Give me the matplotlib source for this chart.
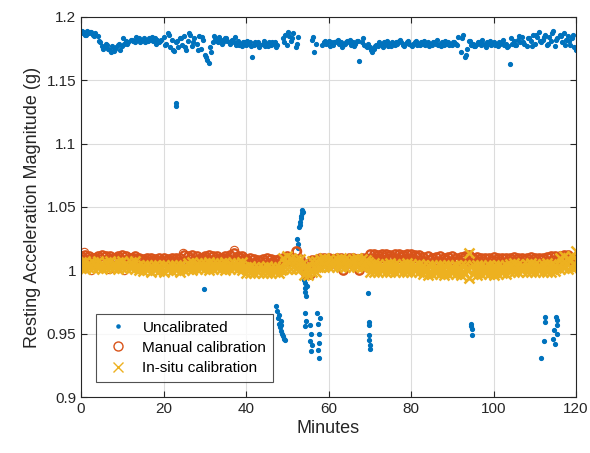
import matplotlib
matplotlib.use("Agg")
import matplotlib.pyplot as plt
import numpy as np

plt.rcParams['font.family'] = ['Liberation Sans', 'DejaVu Sans']

# time grids (minutes)
t_half = np.arange(0, 120.5, 0.5)
t_min = np.arange(0, 121, 1.0)

# uncalibrated, main band near 1.18 g (one value per half minute, nan = no sample in band)
uncal_band = [
    1.187, 1.188, 1.186, 1.189, 1.187, 1.188, 1.186, 1.187, 1.185,
    1.180, 1.177, 1.176, 1.179, 1.175, 1.174, 1.177, 1.173, 1.176, 1.178, 1.174, 1.177,
    1.179, 1.181, 1.180, 1.182, 1.181, 1.180, 1.182, 1.183, 1.181, 1.182, 1.180, 1.181,
    1.183, 1.182, 1.181, 1.183, 1.182, 1.180, 1.182,
    1.184, 1.179, 1.187, 1.176, 1.182, 1.173, 1.180, 1.176, 1.183,
    1.178, 1.185, 1.174, 1.181, 1.186, 1.177, 1.183, 1.179, 1.185, 1.175, 1.182, 1.170,
    1.166, 1.164, 1.172, 1.180,
    1.183, 1.181, 1.184, 1.182, 1.180, 1.183, 1.181, 1.179, 1.182, 1.180, 1.178, 1.181,
    1.179, 1.177, 1.180, 1.178,
    1.179, 1.180, 1.168, 1.178, 1.179, 1.180, 1.178, 1.179, 1.177, 1.179, 1.180, 1.178,
    1.179, 1.180, 1.178,
    np.nan, np.nan,
    1.183, 1.186, 1.178, 1.185, 1.181, 1.187, 1.176, 1.184,
    np.nan, np.nan, np.nan, np.nan, np.nan, np.nan,
    1.182, 1.172, 1.179,
    np.nan, np.nan,
    1.178, 1.180, 1.179, 1.181, 1.180, 1.178, 1.180, 1.181, 1.179, 1.180, 1.178, 1.179,
    1.181, 1.180, 1.178, 1.180, 1.179, 1.181, 1.165, 1.180, 1.178, 1.177, 1.179,
    1.176, 1.172, 1.175, 1.178, 1.177, 1.179, 1.178, 1.180, 1.179, 1.177, 1.179, 1.180,
    1.178, 1.179, 1.181, 1.180, 1.178, 1.179, 1.180, 1.179, 1.178,
    1.179, 1.180, 1.178, 1.179, 1.180, 1.179, 1.178, 1.180, 1.179, 1.178, 1.180, 1.179,
    1.178, 1.179, 1.180, 1.178, 1.179, 1.180, 1.179, 1.178, 1.180, 1.179,
    1.184, 1.172, 1.186, 1.168, 1.175, 1.181,
    1.178, 1.179, 1.177, 1.179, 1.180, 1.178, 1.179, 1.178, 1.180, 1.179, 1.178, 1.180,
    1.179, 1.177, 1.179, 1.180, 1.178, 1.179, 1.177, 1.163,
    1.179, 1.181, 1.178, 1.182, 1.180, 1.184, 1.179, 1.177, 1.183, 1.181, 1.186, 1.179,
    1.184, 1.188, 1.180, 1.182, 1.186, 1.178, 1.184, 1.181, 1.189, 1.177, 1.183, 1.186,
    1.180, 1.187, 1.182,
    1.185, 1.178, 1.183, 1.176, 1.174,
]
# second set of band samples, a quarter minute after each whole minute
uncal_band2 = [
    1.189, 1.186, 1.188, 1.185,
    1.181, 1.175, 1.178, 1.172, 1.175, 1.179,
    1.183, 1.179, 1.182, 1.184, 1.180, 1.183, 1.181, 1.184, 1.179, 1.181,
    1.178, 1.186, 1.174, 1.181,
    1.183, 1.176, 1.187, 1.180, 1.174, 1.184, 1.168, 1.176,
    1.185, 1.180, 1.179, 1.183, 1.181, 1.184, 1.178, 1.180,
    1.181, 1.177, 1.180, 1.176, 1.181, 1.177, 1.180, 1.176,
    np.nan,
    1.180, 1.188, 1.183, 1.179,
    np.nan, np.nan, np.nan,
    1.184,
    np.nan, np.nan,
    1.181, 1.177, 1.180, 1.182, 1.176, 1.180, 1.182, 1.177, 1.181, 1.183, 1.176,
    1.174, 1.177, 1.180, 1.176, 1.181, 1.177, 1.180, 1.182, 1.177, 1.181,
    1.177, 1.181, 1.178, 1.181, 1.177, 1.180, 1.182, 1.177, 1.181, 1.178, 1.180,
    1.178, 1.183, 1.170,
    1.181, 1.177, 1.180, 1.182, 1.176, 1.181, 1.178, 1.180, 1.182, 1.176,
    1.183, 1.178, 1.185, 1.180, 1.183, 1.177, 1.186, 1.181, 1.184, 1.179, 1.187, 1.182, 1.185, 1.178,
    1.181, 1.186, 1.176,
]

# uncalibrated samples away from the band
uncal_out_t = [23.0, 23.1, 29.7,
               47.3, 47.5, 47.8, 48.0, 48.1, 48.2, 48.4, 48.5, 48.6, 48.8, 49.0, 49.2, 49.4,
               52.4, 52.5, 52.6, 52.8, 53.0, 53.2, 53.3, 53.4, 53.5, 53.6, 53.7,
               54.0, 54.2, 54.3, 54.4, 54.6, 54.8, 54.4, 54.5, 54.3,
               55.6, 55.8, 55.5, 55.7, 55.9,
               57.3, 57.5, 57.6, 57.8, 57.5, 57.7, 58.0,
               69.6, 69.8, 69.9, 69.8, 69.9, 70.0, 70.1,
               94.5, 94.6, 94.7, 94.8,
               112.4, 112.5, 112.2, 111.6, 115.2, 115.3, 115.3, 114.6, 115.4, 114.4, 115.0]
uncal_out_v = [1.132, 1.130, 0.985,
               0.972, 0.968, 0.962, 0.958, 0.965, 0.955, 0.960, 0.957, 0.952, 0.950, 0.948, 0.946, 0.945,
               1.025, 1.021, 1.018, 1.034, 1.036, 1.038, 1.041, 1.043, 1.045, 1.048, 1.046,
               0.992, 0.990, 0.986, 0.983, 0.980, 0.988, 0.966, 0.960, 0.956,
               0.957, 0.950, 0.944, 0.936, 0.941,
               0.966, 0.958, 0.950, 0.943, 0.937, 0.931, 0.962,
               0.982, 0.959, 0.957, 0.949, 0.945, 0.941, 0.938,
               0.958, 0.956, 0.954, 0.949,
               0.963, 0.959, 0.944, 0.931, 0.963, 0.961, 0.957, 0.953, 0.950, 0.946, 0.942]

# manual calibration, two rows per minute
manual_a = [
    1.011, 1.012, 1.011, 1.010, 1.011, 1.012, 1.011, 1.011, 1.010, 1.011, 1.012, 1.011, 1.010, 1.011,
    1.0095, 1.009, 1.010, 1.0095, 1.009, 1.010, 1.0095, 1.009, 1.010, 1.0095, 1.010, 1.012,
    1.011, 1.012, 1.011, 1.010, 1.011, 1.012, 1.011, 1.011, 1.010, 1.011, 1.012, 1.014, 1.011, 1.011,
    1.009, 1.010, 1.009, 1.0085, 1.009, 1.010, 1.009, 1.0085, 1.009,
    1.010, 1.011, 1.010,
    1.015,
    1.009,
    1.002, 1.002,
    1.008, 1.008,
    1.0095, 1.010, 1.0095, 1.009, 1.010, 1.0095, 1.009, 1.010, 1.0095, 1.009, 1.010, 1.0095,
    1.0125, 1.013, 1.012, 1.0125, 1.013, 1.012, 1.0125, 1.013, 1.012, 1.0125, 1.013, 1.012, 1.012,
    1.0105, 1.011, 1.010, 1.0105, 1.011, 1.010, 1.0105, 1.011, 1.010, 1.0105, 1.011,
    1.012,
    1.010, 1.0105, 1.010, 1.0095, 1.010, 1.0105, 1.010, 1.0095, 1.010,
    1.010, 1.0105, 1.010, 1.0095, 1.010, 1.0105, 1.010, 1.0095, 1.010, 1.0105,
    1.011, 1.0115, 1.011, 1.012, 1.012,
    1.010, 1.009,
]
manual_b = [
    1.009, 1.0085, 1.009, 1.0095, 1.009, 1.0085, 1.009, 1.009, 1.0095, 1.009, 1.0085, 1.009, 1.0095, 1.009,
    1.0072, 1.007, 1.0075, 1.007, 1.0072, 1.0075, 1.007, 1.0072, 1.0075, 1.007, 1.0072, 1.0075,
    1.009, 1.0085, 1.009, 1.0095, 1.009, 1.0085, 1.009, 1.009, 1.0095, 1.009, 1.0085, 1.009, 1.0095, 1.009,
    1.0065, 1.006, 1.0065, 1.007, 1.0065, 1.006, 1.0065, 1.007, 1.0065,
    1.007, 1.007, 1.007,
    1.006,
    1.005,
    0.997, 0.997,
    1.006, 1.006,
    1.006, 1.006, 1.006, 1.006, 1.006, 1.000, 1.006, 1.006, 1.006, 1.000, 1.006, 1.006,
    1.010, 1.0095, 1.010, 1.0105, 1.010, 1.0095, 1.010, 1.0105, 1.010, 1.0095, 1.010, 1.0105, 1.008,
    1.0075, 1.008, 1.0075, 1.007, 1.0075, 1.008, 1.0075, 1.007, 1.0075, 1.008, 1.0075,
    1.008,
    1.007, 1.0075, 1.007, 1.0065, 1.007, 1.0075, 1.007, 1.0065, 1.007,
    1.0075, 1.007, 1.0075, 1.008, 1.0075, 1.007, 1.0075, 1.008, 1.0075, 1.007,
    1.008, 1.0085, 1.008, 1.009, 1.008,
    1.006, 1.005,
]
manual_out_t = [0.8, 2.5, 6.8, 10.5, 24.8, 37.2, 52.4, 56.4]
manual_out_v = [1.0144, 1.0005, 1.001, 1.0005, 1.0135, 1.016, 1.0155, 1.008]

# in-situ calibration, three rows per minute
insitu_a = [
    1.0065, 1.007, 1.006, 1.0065, 1.007, 1.006, 1.0065, 1.007, 1.006, 1.0065, 1.007, 1.006, 1.0065, 1.007,
    1.004, 1.0045, 1.004, 1.0035, 1.004, 1.0045, 1.004, 1.0035, 1.004, 1.0045, 1.004, 1.0035,
    1.006, 1.0065, 1.006, 1.0055, 1.006, 1.0065, 1.006, 1.0055, 1.006, 1.0065, 1.006, 1.0055, 1.006, 1.0065,
    1.003, 1.0035, 1.003, 1.0025, 1.003, 1.0035, 1.003, 1.0025, 1.003,
    1.010, 1.011, 1.010,
    1.009, 1.009,
    1.003, 1.003,
    1.007, 1.007,
    1.009, 1.0095, 1.009, 1.0085, 1.009, 1.0095, 1.009, 1.0085, 1.009, 1.0095, 1.009, 1.0085,
    1.005, 1.0055, 1.005, 1.0045, 1.005, 1.0055, 1.005, 1.0045, 1.005, 1.0055, 1.005, 1.0045, 1.005,
    1.004, 1.0045, 1.004, 1.0035, 1.004, 1.0045, 1.004, 1.0035, 1.004, 1.0045, 1.004,
    1.0135,
    1.004, 1.0045, 1.004, 1.0035, 1.004, 1.0045, 1.004, 1.0035, 1.004,
    1.005, 1.0055, 1.005, 1.0045, 1.005, 1.0055, 1.005, 1.0045, 1.005, 1.0055, 1.005, 1.0045,
    1.010, 1.011, 1.010, 1.011, 1.015,
]
insitu_b = [
    1.004, 1.0035, 1.004, 1.0045, 1.004, 1.0035, 1.004, 1.0045, 1.004, 1.0035, 1.004, 1.0045, 1.004, 1.0035,
    1.002, 1.0015, 1.002, 1.0025, 1.002, 1.0015, 1.002, 1.0025, 1.002, 1.0015, 1.002, 1.0025,
    1.0035, 1.003, 1.0035, 1.004, 1.0035, 1.003, 1.0035, 1.004, 1.0035, 1.003, 1.0035, 1.004, 1.0035, 1.003,
    1.000, 0.9995, 1.000, 1.0005, 1.000, 0.9995, 1.000, 1.0005, 1.000,
    1.006, 1.006, 1.006,
    1.005, 1.005,
    1.000, 1.000,
    1.003, 1.003,
    1.006, 1.0055, 1.006, 1.0065, 1.006, 1.0055, 1.006, 1.0065, 1.006, 1.0055, 1.006, 1.0065,
    1.002, 1.0015, 1.002, 1.0025, 1.002, 1.0015, 1.002, 1.0025, 1.002, 1.0015, 1.002, 1.0025, 1.002,
    1.000, 0.9995, 1.000, 1.0005, 1.000, 0.9995, 1.000, 1.0005, 1.000, 0.9995, 1.000,
    1.003,
    1.0005, 1.000, 1.0005, 1.001, 1.0005, 1.000, 1.0005, 1.001, 1.0005,
    1.002, 1.0015, 1.002, 1.0025, 1.002, 1.0015, 1.002, 1.0025, 1.002, 1.0015, 1.002, 1.0025,
    1.006, 1.006, 1.007, 1.006, 1.008,
]
insitu_c = [
    1.0015, 1.001, 1.0015, 1.002, 1.0015, 1.001, 1.0015, 1.002, 1.0015, 1.001, 1.0015, 1.002, 1.0015, 1.001,
    1.000, 0.9995, 1.000, 0.999, 1.000, 0.9995, 0.999, 1.000, 0.9995, 1.000, 0.999, 1.000,
    1.001, 1.0005, 1.001, 1.0015, 1.001, 1.0005, 1.001, 1.0015, 1.001, 1.0005, 1.001, 1.0015, 1.001, 1.0005,
    0.998, 0.9975, 0.998, 0.9985, 0.998, 0.9975, 0.998, 0.9985, 0.998,
    1.001, 1.001, 1.001,
    1.001, 1.001,
    0.996, 0.996,
    0.999, 0.999,
    1.003, 1.0025, 1.003, 1.0035, 1.003, 1.0025, 1.003, 1.0035, 1.003, 1.0025, 1.003, 1.0035,
    0.999, 0.9985, 0.999, 0.9995, 0.999, 0.9985, 0.999, 0.9995, 0.999, 0.9985, 0.999, 0.9995, 0.999,
    0.997, 0.9965, 0.997, 0.9975, 0.997, 0.9965, 0.997, 0.9975, 0.997, 0.9965, 0.997,
    0.994,
    0.997, 0.9965, 0.997, 0.9975, 0.997, 0.9965, 0.997, 0.9975, 0.997,
    0.999, 0.9985, 0.999, 0.9995, 0.999, 0.9985, 0.999, 0.9995, 0.999, 0.9985, 0.999, 0.9995,
    1.001, 1.0015, 1.001, 1.002, 1.003,
]

xticks = [0, 20, 40, 60, 80, 100, 120]
yticks = [0.9, 0.95, 1.0, 1.05, 1.1, 1.15, 1.2]
ytick_labels = ["0.9", "0.95", "1", "1.05", "1.1", "1.15", "1.2"]

c_blue = "#0072BD"
c_orange = "#D95319"
c_yellow = "#EDB120"

fig = plt.figure(figsize=(5.9, 4.53), dpi=100)
ax = fig.add_axes([0.1373, 0.1236, 0.839, 0.839])

ax.plot(t_half, uncal_band, ".", color=c_blue, ms=5.5, label="Uncalibrated")
ax.plot(t_min + 0.25, uncal_band2, ".", color=c_blue, ms=5.5)
ax.plot(uncal_out_t, uncal_out_v, ".", color=c_blue, ms=5.5)
ax.plot(t_min, manual_a, "o", color=c_orange, mfc="none", ms=6, mew=1.7, label="Manual calibration")
ax.plot(t_min + 0.5, manual_b, "o", color=c_orange, mfc="none", ms=6, mew=1.7)
ax.plot(manual_out_t, manual_out_v, "o", color=c_orange, mfc="none", ms=6, mew=0.8)
ax.plot(t_min, insitu_a, "x", color=c_yellow, ms=6.5, mew=1.8, label="In-situ calibration")
ax.plot(t_min + 0.5, insitu_b, "x", color=c_yellow, ms=6.5, mew=1.8)
ax.plot(t_min, insitu_c, "x", color=c_yellow, ms=6.5, mew=1.8)

ax.set_xlim(0, 120)
ax.set_ylim(0.9, 1.2)
ax.set_xticks(xticks)
ax.set_yticks(yticks)
ax.set_yticklabels(ytick_labels)
ax.tick_params(direction="in", top=True, right=True, labelsize=11, color="#262626",
               labelcolor="#262626", length=4)
ax.grid(True, color="#dcdcdc", linewidth=0.8)
ax.set_axisbelow(True)
for s in ax.spines.values():
    s.set_color("#262626")
    s.set_linewidth(0.8)
ax.set_xlabel("Minutes", fontsize=13, color="#262626", labelpad=3)
ax.set_ylabel("Resting Acceleration Magnitude (g)", fontsize=13, color="#262626", labelpad=4)

leg = ax.legend(loc="lower left", bbox_to_anchor=(0.03, 0.04), fontsize=11,
                frameon=True, fancybox=False, edgecolor="#262626", borderpad=0.45,
                labelspacing=0.4, handletextpad=0.6, handlelength=2.0, borderaxespad=0)
leg.get_frame().set_linewidth(0.8)
for h in leg.legend_handles:
    if h.get_marker() == ".":
        h.set_markersize(4.5)
    else:
        h.set_markersize(6.5)
        h.set_markeredgewidth(1.0)

fig.savefig("out.png", dpi=100)
